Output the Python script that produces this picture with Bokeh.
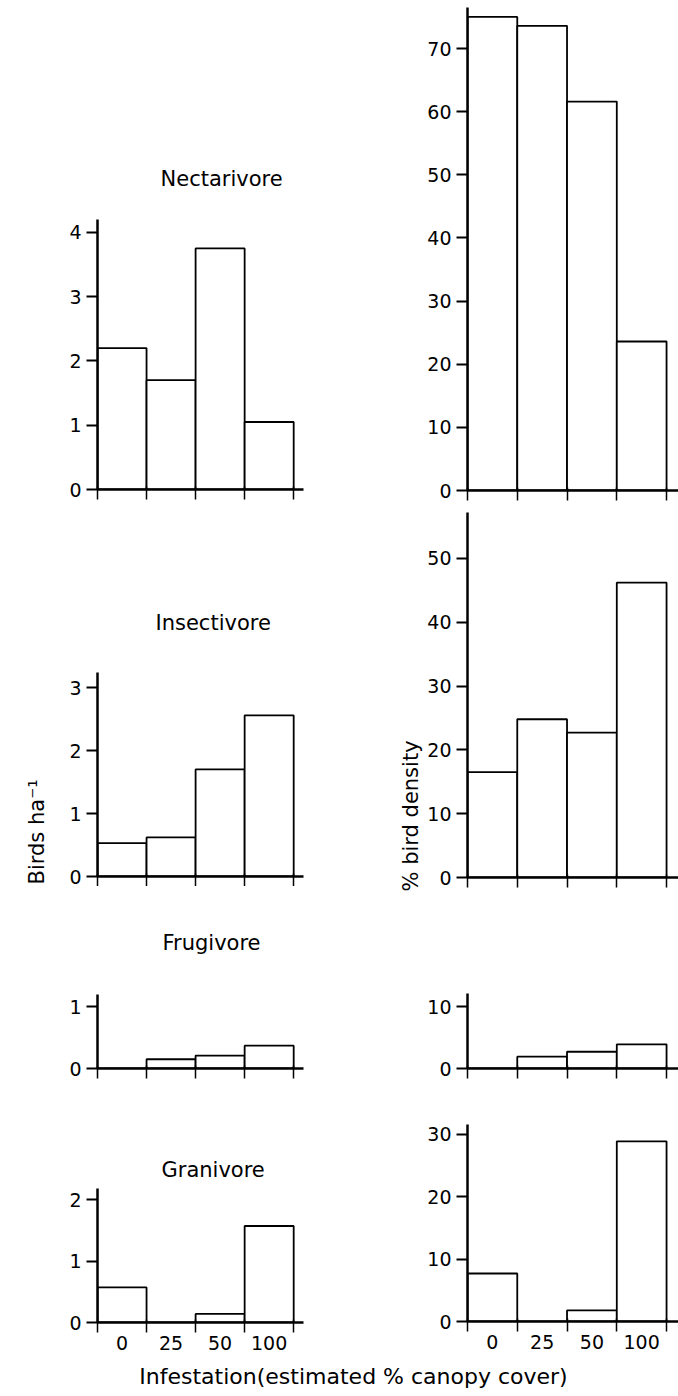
from bokeh.plotting import figure
from bokeh.layouts import column, row
from bokeh.models import FixedTicker, Range1d, Label, Title
from bokeh.embed import file_html
from bokeh.resources import INLINE

# Infestation classes (estimated % canopy cover)
classes = ["0", "25", "50", "100"]
guilds = ["Nectarivore", "Insectivore", "Frugivore", "Granivore"]

# Birds per hectare in each infestation class
nect_density = [2.2, 1.7, 3.75, 1.05]
insect_density = [0.53, 0.62, 1.7, 2.56]
frug_density = [0.0, 0.15, 0.21, 0.37]
gran_density = [0.57, 0.0, 0.14, 1.57]

# Percentage of total bird density in each infestation class
nect_pct = [75.0, 73.6, 61.6, 23.6]
insect_pct = [16.5, 24.8, 22.7, 46.2]
frug_pct = [0.0, 1.9, 2.7, 3.9]
gran_pct = [7.7, 0.0, 1.8, 28.9]

# Y-axis ticks for each panel
density_ticks = [[0, 1, 2, 3, 4], [0, 1, 2, 3], [0, 1], [0, 1, 2]]
pct_ticks = [[0, 10, 20, 30, 40, 50, 60, 70], [0, 10, 20, 30, 40, 50], [0, 10], [0, 10, 20, 30]]

density_series = [nect_density, insect_density, frug_density, gran_density]
pct_series = [nect_pct, insect_pct, frug_pct, gran_pct]

FONT = "DejaVu Sans"
LEFT_W, RIGHT_W = 330, 348
# (figure height, top border, frame height, axis top) for each panel
LEFT_GEOM = [(505, 219, 270, 4.2), (381, 167, 204, 3.24), (199, 108, 74, 1.2), (277, 103, 134, 2.18)]
RIGHT_GEOM = [(505, 7, 483, 76.5), (388, 7, 365, 57.2), (192, 100, 75, 12.1), (277, 39, 197, 31.6)]
TITLE_STANDOFF = [58, 76, 79, 14]
TITLE_OFFSET = [63, 58, 65, 64]


def panel(values, yticks, geom, left, bottom_row):
    fig_h, top, frame_h, ymax = geom
    if left:
        width, bl, br, xmax = LEFT_W, 97, 27, 4.2
    else:
        width, bl, br, xmax = RIGHT_W, 137, 0, 4.24
    p = figure(width=width, height=fig_h,
               min_border_left=bl, min_border_right=br,
               min_border_top=top, min_border_bottom=fig_h - top - frame_h,
               x_range=Range1d(0, xmax), y_range=Range1d(0, ymax),
               toolbar_location=None, output_backend="svg")
    p.outline_line_color = None
    p.grid.visible = False
    p.background_fill_color = "white"
    p.border_fill_color = "white"

    n = len(values)
    p.quad(left=list(range(n)), right=[i + 1 for i in range(n)],
           bottom=[0] * n, top=values,
           fill_color="white", line_color="black", line_width=1.8)

    xa = p.xaxis[0]
    if bottom_row:
        centers = [i + 0.5 for i in range(n)]
        xa.ticker = FixedTicker(ticks=centers, minor_ticks=list(range(n + 1)))
        xa.major_label_overrides = {c: lab for c, lab in zip(centers, classes)}
    else:
        xa.ticker = FixedTicker(ticks=[], minor_ticks=list(range(n + 1)))
    xa.axis_line_width = 2.5
    xa.axis_line_color = "black"
    xa.major_tick_out = 0
    xa.major_tick_in = 0
    xa.minor_tick_out = 10
    xa.minor_tick_in = 3
    xa.minor_tick_line_width = 1.5
    xa.minor_tick_line_color = "black"
    xa.major_label_standoff = 3
    xa.major_label_text_font = FONT
    xa.major_label_text_font_size = "19px"
    xa.major_label_text_color = "black"

    ya = p.yaxis[0]
    ya.ticker = FixedTicker(ticks=yticks, minor_ticks=[])
    ya.axis_line_width = 2.5
    ya.axis_line_color = "black"
    ya.major_tick_out = 11
    ya.major_tick_in = 0
    ya.major_tick_line_width = 2
    ya.major_tick_line_color = "black"
    ya.major_label_standoff = 5
    ya.major_label_text_font = FONT
    ya.major_label_text_font_size = "19px"
    ya.major_label_text_color = "black"
    return p


def side_title(p, text, standoff, offset):
    p.add_layout(Title(text=text, align="left", standoff=standoff, offset=offset,
                       text_font=FONT, text_font_size="21px",
                       text_font_style="normal", text_color="black"), "left")


left_col, right_col = [], []
for i in range(4):
    lp = panel(density_series[i], density_ticks[i], LEFT_GEOM[i], True, i == 3)
    lp.title.text = guilds[i]
    lp.title.align = "left"
    lp.title.standoff = TITLE_STANDOFF[i]
    lp.title.offset = TITLE_OFFSET[i]
    lp.title.text_font = FONT
    lp.title.text_font_size = "21px"
    lp.title.text_font_style = "normal"
    lp.title.text_color = "black"
    rp = panel(pct_series[i], pct_ticks[i], RIGHT_GEOM[i], False, i == 3)
    if i == 1:
        side_title(lp, "Birds ha⁻¹", 36, -8)
        side_title(rp, "% bird density", 3, -14)
    left_col.append(lp)
    right_col.append(rp)

# strip carrying the shared x-axis title
strip = figure(width=678, height=34, x_range=Range1d(0, 678), y_range=Range1d(0, 34),
               min_border=0, toolbar_location=None, output_backend="svg")
strip.axis.visible = False
strip.grid.visible = False
strip.outline_line_color = None
strip.add_layout(Label(x=353, y=20, text="Infestation(estimated % canopy cover)",
                       text_align="center", text_baseline="middle",
                       text_font=FONT, text_font_size="22px", text_color="black"))

layout = column(row(column(*left_col, spacing=0), column(*right_col, spacing=0), spacing=0),
                strip, spacing=0)
open("out.html", "w").write(file_html(layout, INLINE))
